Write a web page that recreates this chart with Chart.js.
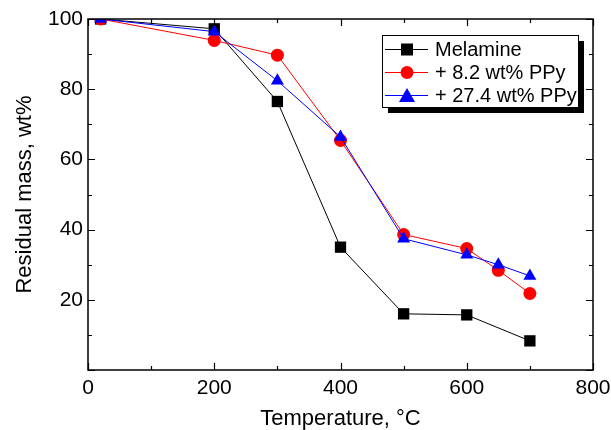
<!DOCTYPE html>
<html>
<head>
<meta charset="utf-8">
<script src="https://cdn.jsdelivr.net/npm/chart.js@4.4.1/dist/chart.umd.min.js"></script>
<style>
  html, body { margin: 0; padding: 0; background: #fff; }
  #wrap { width: 611px; height: 430px; }
</style>
</head>
<body>
<div id="wrap"><canvas id="myChart" width="611" height="430"></canvas></div>
<script>
  // data
  const seriesNames = ['Melamine', '+ 8.2 wt% PPy', '+ 27.4 wt% PPy'];
  const melamineT = [20, 200, 300, 400, 500, 600, 700];
  const melamineMass = [100, 97.2, 76.5, 35.0, 16.0, 15.7, 8.3];
  const ppy82T = [20, 200, 300, 400, 500, 600, 650, 700];
  const ppy82Mass = [100, 93.9, 89.7, 65.4, 38.6, 34.6, 28.4, 21.8];
  const ppy274T = [20, 200, 300, 400, 500, 600, 650, 700];
  const ppy274Mass = [100, 96.4, 82.4, 66.4, 37.4, 32.8, 30.0, 26.8];
  const xTicks = [0, 200, 400, 600, 800];
  const yTicks = [20, 40, 60, 80, 100];

  const fontFam = 'Arial, "Liberation Sans", sans-serif';

  function toPoints(xs, ys) {
    return xs.map((x, i) => ({ x: x, y: ys[i] }));
  }

  const colors = ['#000000', '#ff0000', '#0000ff'];
  const styles = ['rect', 'circle', 'triangle'];
  const radii = [8, 6.5, 7.5];

  // frame with inward ticks on all four sides, plus the shadowed legend
  const framePlugin = {
    id: 'frame',
    afterDraw(chart) {
      const c = chart.ctx;
      const a = chart.chartArea;
      const xs = chart.scales.x, ys = chart.scales.y;
      c.save();
      c.strokeStyle = '#000';
      c.lineWidth = 1.5;
      c.strokeRect(a.left, a.top, a.right - a.left, a.bottom - a.top);
      c.lineWidth = 1.2;
      for (let v = 0; v <= 800; v += 100) {
        const px = Math.round(xs.getPixelForValue(v)) + 0.5;
        const len = v % 200 === 0 ? 7 : 4;
        c.beginPath();
        c.moveTo(px, a.bottom); c.lineTo(px, a.bottom - len);
        c.moveTo(px, a.top); c.lineTo(px, a.top + len);
        c.stroke();
      }
      for (let v = 0; v <= 100; v += 10) {
        const py = Math.round(ys.getPixelForValue(v)) + 0.5;
        const len = v % 20 === 0 ? 7 : 4;
        c.beginPath();
        c.moveTo(a.left, py); c.lineTo(a.left + len, py);
        c.moveTo(a.right, py); c.lineTo(a.right - len, py);
        c.stroke();
      }

      // legend box
      const bx = 382, by = 35, bw = 196, bh = 72;
      c.fillStyle = '#000';
      c.fillRect(bx + 6, by + 6, bw, bh);
      c.fillStyle = '#fff';
      c.fillRect(bx, by, bw, bh);
      c.lineWidth = 1;
      c.strokeStyle = '#000';
      c.strokeRect(bx + 0.5, by + 0.5, bw, bh);
      c.font = '20px ' + fontFam;
      c.textBaseline = 'middle';
      const rows = [49, 72, 95];
      seriesNames.forEach((name, i) => {
        const y = rows[i];
        c.strokeStyle = colors[i];
        c.lineWidth = 1;
        c.beginPath();
        c.moveTo(385, y + 0.5); c.lineTo(428, y + 0.5);
        c.stroke();
        c.fillStyle = colors[i];
        c.beginPath();
        if (i === 0) {
          c.fillRect(401, y - 5.5, 12, 12);
        } else if (i === 1) {
          c.arc(407, y + 0.5, 6.5, 0, Math.PI * 2);
          c.fill();
        } else {
          c.moveTo(407, y - 7); c.lineTo(415, y + 7); c.lineTo(399, y + 7);
          c.closePath();
          c.fill();
        }
        c.fillStyle = '#000';
        c.fillText(name, 435, y + 1);
      });
      c.restore();
    }
  };

  const ctx = document.getElementById('myChart').getContext('2d');
  const myChart = new Chart(ctx, {
    type: 'line',
    data: {
      datasets: [
        { label: seriesNames[0], data: toPoints(melamineT, melamineMass) },
        { label: seriesNames[1], data: toPoints(ppy82T, ppy82Mass) },
        { label: seriesNames[2], data: toPoints(ppy274T, ppy274Mass) }
      ].map((d, i) => Object.assign(d, {
        borderColor: colors[i],
        backgroundColor: colors[i],
        borderWidth: 1,
        pointStyle: styles[i],
        pointRadius: radii[i],
        pointBorderWidth: 0,
        tension: 0,
        order: 2 - i   // later series are drawn on top, as in the original
      }))
    },
    options: {
      responsive: false,
      animation: false,
      layout: { padding: { top: 19, right: 18, left: 0, bottom: 0 } },
      plugins: { legend: { display: false }, tooltip: { enabled: false } },
      scales: {
        x: {
          type: 'linear',
          min: 0, max: 800,
          afterBuildTicks: s => { s.ticks = xTicks.map(v => ({ value: v })); },
          grid: { display: false, drawTicks: false },
          border: { display: false },
          ticks: { color: '#000', font: { size: 21, family: fontFam }, padding: 6, maxRotation: 0 },
          title: { display: true, text: 'Temperature, °C', color: '#000',
                   font: { size: 22, family: fontFam, lineHeight: 1 }, padding: { top: 0, bottom: 0 } },
          afterFit: s => { s.height = 60; s.paddingLeft = 0; s.paddingRight = 0; }
        },
        y: {
          min: 0, max: 100,
          afterBuildTicks: s => { s.ticks = yTicks.map(v => ({ value: v })); },
          grid: { display: false, drawTicks: false },
          border: { display: false },
          ticks: { color: '#000', font: { size: 21, family: fontFam }, padding: 5 },
          title: { display: true, text: 'Residual mass, wt%', color: '#000',
                   font: { size: 22, family: fontFam, lineHeight: 1 }, padding: { top: 14, bottom: 0 } },
          afterFit: s => { s.width = 88; s.paddingTop = 0; s.paddingBottom = 0; }
        }
      }
    },
    plugins: [framePlugin]
  });
</script>
</body>
</html>
